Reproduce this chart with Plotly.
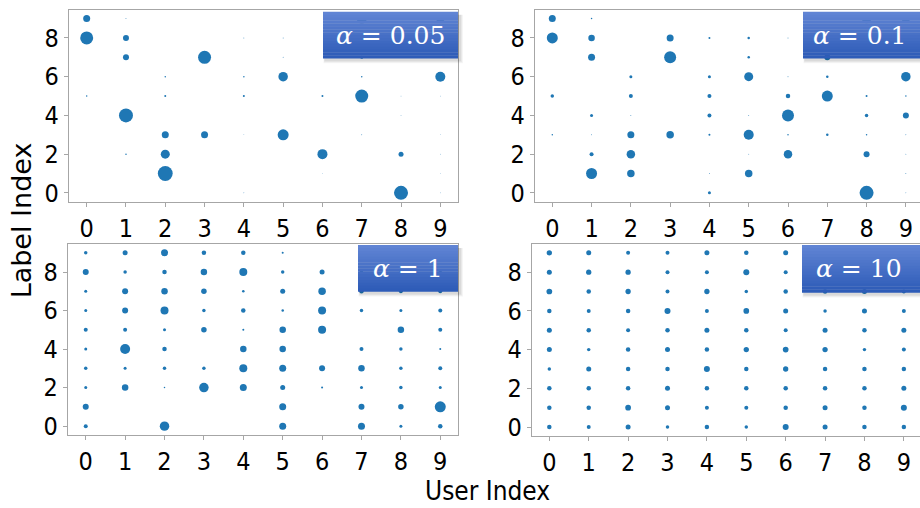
import numpy as np
import plotly.graph_objects as go

users = list(range(10))
labels = list(range(10))
alpha_text = ["0.05", "0.1", "1", "10"]

# Fraction of each label's samples held by each user: rows = label 0..9, cols = user 0..9
share_a005 = [
    [0, 0, 0, 0, 0.004, 0, 0, 0, 0.87, 0.002],
    [0, 0, 0.98, 0, 0, 0, 0.002, 0, 0, 0.002],
    [0, 0.01, 0.36, 0, 0, 0, 0.444, 0, 0.111, 0.002],
    [0, 0, 0.218, 0.218, 0.002, 0.538, 0, 0.004, 0, 0.002],
    [0, 0.87, 0, 0, 0, 0, 0, 0, 0.002, 0],
    [0.01, 0, 0.018, 0, 0.018, 0, 0.018, 0.75, 0.002, 0.002],
    [0, 0, 0.01, 0, 0.01, 0.40, 0, 0.01, 0, 0.444],
    [0, 0.16, 0, 0.75, 0, 0.004, 0, 0.04, 0, 0],
    [0.75, 0.16, 0, 0, 0.004, 0.004, 0, 0, 0.08, 0],
    [0.218, 0.004, 0, 0, 0, 0, 0, 0.45, 0, 0.3],
]
share_a01 = [
    [0, 0, 0, 0, 0.04, 0, 0, 0, 0.87, 0.004],
    [0, 0.538, 0.25, 0, 0.004, 0.25, 0, 0, 0, 0.004],
    [0, 0.071, 0.32, 0, 0, 0.004, 0.32, 0, 0.16, 0.004],
    [0.01, 0.004, 0.218, 0.25, 0.018, 0.444, 0.01, 0.028, 0.01, 0.004],
    [0, 0.04, 0.004, 0, 0.071, 0.004, 0.64, 0, 0.054, 0.16],
    [0.054, 0, 0.071, 0, 0.071, 0, 0.09, 0.538, 0.018, 0.01],
    [0, 0, 0.04, 0, 0.04, 0.36, 0.004, 0.028, 0, 0.40],
    [0, 0.218, 0, 0.64, 0, 0.028, 0, 0.16, 0, 0],
    [0.538, 0.188, 0, 0.218, 0.018, 0.028, 0.004, 0, 0, 0.05],
    [0.218, 0.01, 0, 0, 0, 0, 0, 0, 0.4, 0.3],
]
share_a1 = [
    [0.071, 0, 0.40, 0, 0, 0.218, 0, 0.218, 0.04, 0.09],
    [0.16, 0, 0, 0, 0, 0.218, 0, 0.16, 0.134, 0.538],
    [0.04, 0.188, 0.01, 0.40, 0.218, 0.111, 0.018, 0.04, 0.054, 0.04],
    [0.054, 0.04, 0.054, 0.054, 0.284, 0.218, 0.16, 0.188, 0.054, 0.071],
    [0.04, 0.444, 0.09, 0, 0.188, 0.188, 0, 0.071, 0.054, 0.018],
    [0.071, 0.071, 0.04, 0.134, 0.018, 0.188, 0.284, 0, 0.188, 0.071],
    [0.04, 0.16, 0.284, 0.054, 0.09, 0.028, 0.284, 0.054, 0.04, 0.071],
    [0.04, 0.16, 0.188, 0.134, 0.028, 0.111, 0.25, 0.09, 0.071, 0.071],
    [0.16, 0.054, 0.09, 0.188, 0.284, 0.054, 0.111, 0.05, 0.05, 0.05],
    [0.054, 0.111, 0.218, 0.09, 0.09, 0.018, 0, 0.1, 0.1, 0.1],
]
share_a10 = [
    [0.09, 0.071, 0.111, 0.054, 0.09, 0.054, 0.16, 0.111, 0.09, 0.09],
    [0.09, 0.09, 0.144, 0.111, 0.071, 0.071, 0.09, 0.111, 0.09, 0.16],
    [0.09, 0.09, 0.09, 0.111, 0.09, 0.09, 0.09, 0.09, 0.09, 0.111],
    [0.054, 0.111, 0.09, 0.09, 0.16, 0.09, 0.125, 0.09, 0.09, 0.09],
    [0.111, 0.054, 0.09, 0.111, 0.09, 0.125, 0.144, 0.125, 0.054, 0.071],
    [0.111, 0.09, 0.071, 0.09, 0.111, 0.09, 0.071, 0.111, 0.09, 0.111],
    [0.09, 0.071, 0.09, 0.16, 0.071, 0.144, 0.111, 0.054, 0.111, 0.071],
    [0.144, 0.09, 0.125, 0.071, 0.125, 0.054, 0.09, 0.09, 0.111, 0.071],
    [0.111, 0.125, 0.125, 0.071, 0.071, 0.16, 0.071, 0.111, 0.111, 0.111],
    [0.125, 0.111, 0.071, 0.071, 0.111, 0.09, 0.111, 0.111, 0.111, 0.111],
]

W, H = 920, 508
FULL = 15.0  # marker diameter (px) for a share of 1.0; area is proportional to share


def px(x):
    return x / W


def py(y):
    return 1 - y / H


# panel geometry in pixels: (left, right, top, bottom), x range, whether right spine shows
panels = [
    dict(data=share_a005, box=(69, 458, 10, 204), xr=[-0.45, 9.45], right=True,
         tag=(323, 458, 12, 59)),
    dict(data=share_a01, box=(535, 920, 10, 204), xr=[-0.44, 9.36], right=False,
         tag=(803, 921, 12, 59)),
    dict(data=share_a1, box=(68, 458, 247, 440), xr=[-0.45, 9.45], right=True,
         tag=(358, 458, 248, 295)),
    dict(data=share_a10, box=(532, 920, 247, 441), xr=[-0.44, 9.41], right=False,
         tag=(802, 921, 248, 296)),
]

fig = go.Figure()
tick_font = dict(family="DejaVu Sans Condensed, DejaVu Sans", size=25, color="#000000")
spine = "#a6a6a6"
shapes = []
annotations = []

for i, p in enumerate(panels):
    n = i + 1
    xs, ys, sz = [], [], []
    for lab in labels:
        for u in users:
            v = p["data"][lab][u]
            if v > 0:
                xs.append(u)
                ys.append(lab)
                sz.append(FULL * np.sqrt(v))
    fig.add_trace(go.Scatter(
        x=xs, y=ys, mode="markers",
        marker=dict(size=sz, color="#1f77b4", opacity=1, line=dict(width=0)),
        xaxis="x" if n == 1 else f"x{n}", yaxis="y" if n == 1 else f"y{n}",
        showlegend=False, hoverinfo="skip",
    ))
    l, r, t, b = p["box"]
    xkey = "xaxis" if n == 1 else f"xaxis{n}"
    ykey = "yaxis" if n == 1 else f"yaxis{n}"
    fig.update_layout(**{
        xkey: dict(domain=[px(l), px(r)], range=p["xr"], anchor="y" if n == 1 else f"y{n}",
                   tickmode="array", tickvals=users, ticktext=[str(u) for u in users],
                   showgrid=False, zeroline=False, showline=True, mirror=True,
                   linecolor=spine, linewidth=1.3, ticks="outside", ticklen=4,
                   tickcolor=spine, tickwidth=1.2, tickfont=tick_font),
        ykey: dict(domain=[py(b), py(t)], range=[-0.45, 9.45], anchor="x" if n == 1 else f"x{n}",
                   tickmode="array", tickvals=[0, 2, 4, 6, 8], ticktext=["0", "2", "4", "6", "8"],
                   showgrid=False, zeroline=False, showline=True, mirror=p["right"],
                   linecolor=spine, linewidth=1.3, ticks="outside", ticklen=4,
                   tickcolor=spine, tickwidth=1.2, tickfont=tick_font),
    })

    # alpha tag: soft drop shadow + vertical blue gradient
    tl, tr, tt, tb = p["tag"]
    for k, a in enumerate([0.04, 0.05, 0.06]):
        g = 3 - k
        shapes.append(dict(type="rect", xref="paper", yref="paper",
                           x0=px(tl + 2 - g * 0.5), x1=px(tr + 2 + g),
                           y0=py(tb + 2 + g), y1=py(tt + 3),
                           line=dict(width=0), fillcolor=f"rgba(0,0,0,{a})", layer="above"))
    top_c = np.array([96, 132, 212])
    bot_c = np.array([46, 92, 184])
    nstripe = 16
    for s in range(nstripe):
        f = s / (nstripe - 1)
        c = top_c + (bot_c - top_c) * f
        y0 = tt + (tb - tt) * s / nstripe
        y1 = tt + (tb - tt) * (s + 1) / nstripe
        shapes.append(dict(type="rect", xref="paper", yref="paper",
                           x0=px(tl), x1=px(tr), y0=py(y1 + 0.3), y1=py(y0),
                           line=dict(width=0),
                           fillcolor=f"rgb({int(c[0])},{int(c[1])},{int(c[2])})",
                           layer="above"))
    cx = (tl + tr) / 2 if p["right"] else (tl + 916) / 2
    annotations.append(dict(text=f"<i>α</i> = {alpha_text[i]}", xref="paper", yref="paper",
                            x=px(cx), y=py((tt + tb) / 2), xanchor="center", yanchor="middle",
                            showarrow=False,
                            font=dict(family="DejaVu Serif", size=25, color="#ffffff")))

annotations.append(dict(text="User Index", xref="paper", yref="paper", x=px(487), y=0,
                        xanchor="center", yanchor="bottom", showarrow=False, borderpad=0,
                        yshift=-5,
                        font=dict(family="DejaVu Sans Condensed, DejaVu Sans", size=26,
                                  color="#000000")))
annotations.append(dict(text="Label Index", xref="paper", yref="paper", x=px(21), y=py(223),
                        xanchor="center", yanchor="middle", showarrow=False, textangle=-90,
                        font=dict(family="DejaVu Sans", size=27, color="#000000")))

fig.update_layout(width=W, height=H, margin=dict(l=0, r=0, t=0, b=0),
                  paper_bgcolor="white", plot_bgcolor="white",
                  shapes=shapes, annotations=annotations)

fig.write_html("out.html")
